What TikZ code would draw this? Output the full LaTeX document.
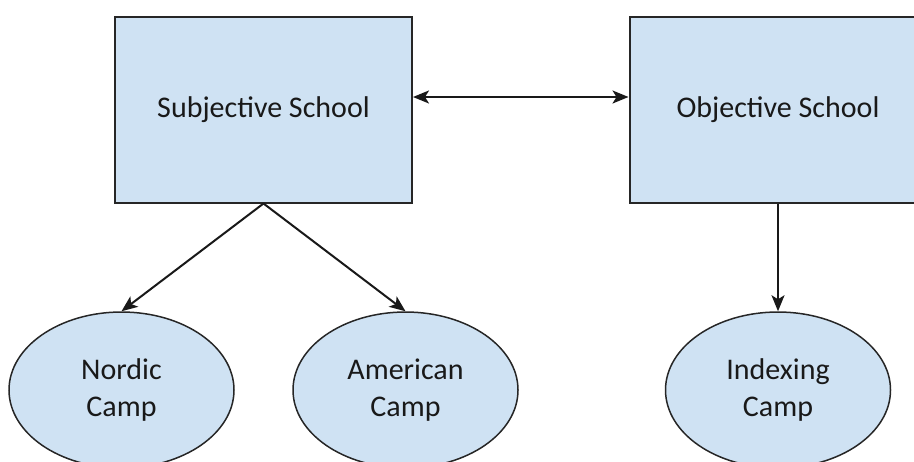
\documentclass[tikz,border=0pt]{standalone}
\usepackage{fontspec}
\setmainfont{Carlito}
\usetikzlibrary{shapes.geometric,arrows.meta}
\definecolor{boxfill}{HTML}{CFE2F3}
\begin{document}
\begin{tikzpicture}[x=0.5pt,y=-0.5pt,
  schoolbox/.style={draw=black!85, line width=1pt, fill=boxfill,
    minimum width=148.5pt, minimum height=93pt, inner sep=0pt,
    text=black!90, font=\fontsize{15}{18.5}\selectfont},
  campnode/.style={ellipse, draw=black!85, line width=0.75pt, fill=boxfill,
    minimum width=112.5pt, minimum height=78pt, inner sep=0pt, align=center,
    text=black!90, font=\fontsize{15}{18.5}\selectfont},
  tip/.tip={Stealth[length=8pt,width=6.5pt,inset=2pt]},
  link/.style={line width=1pt, draw=black!90, -tip},
  biglink/.style={line width=1pt, draw=black!90, tip-tip}]
\useasboundingbox (0,0) rectangle (914,461);
\clip (0,0) rectangle (914,461);

% the two schools
\node[schoolbox] (subj) at (263.5,109.5) {Subjective School};
\node[schoolbox] (obj)  at (778,109.5)   {Objective School};

% the camps
\node[campnode] (nordic)   at (121.5,390) {Nordic\\Camp};
\node[campnode] (american) at (405.5,390) {American\\Camp};
\node[campnode] (indexing) at (778,390)   {Indexing\\Camp};

% connectors
\draw[biglink] ([yshift=6.25pt]subj.east) -- ([yshift=6.25pt]obj.west);
\draw[link] (subj.south) -- (nordic.north);
\draw[link] (subj.south) -- (american.north);
\draw[link] (obj.south) -- (indexing.north);
\end{tikzpicture}
\end{document}
